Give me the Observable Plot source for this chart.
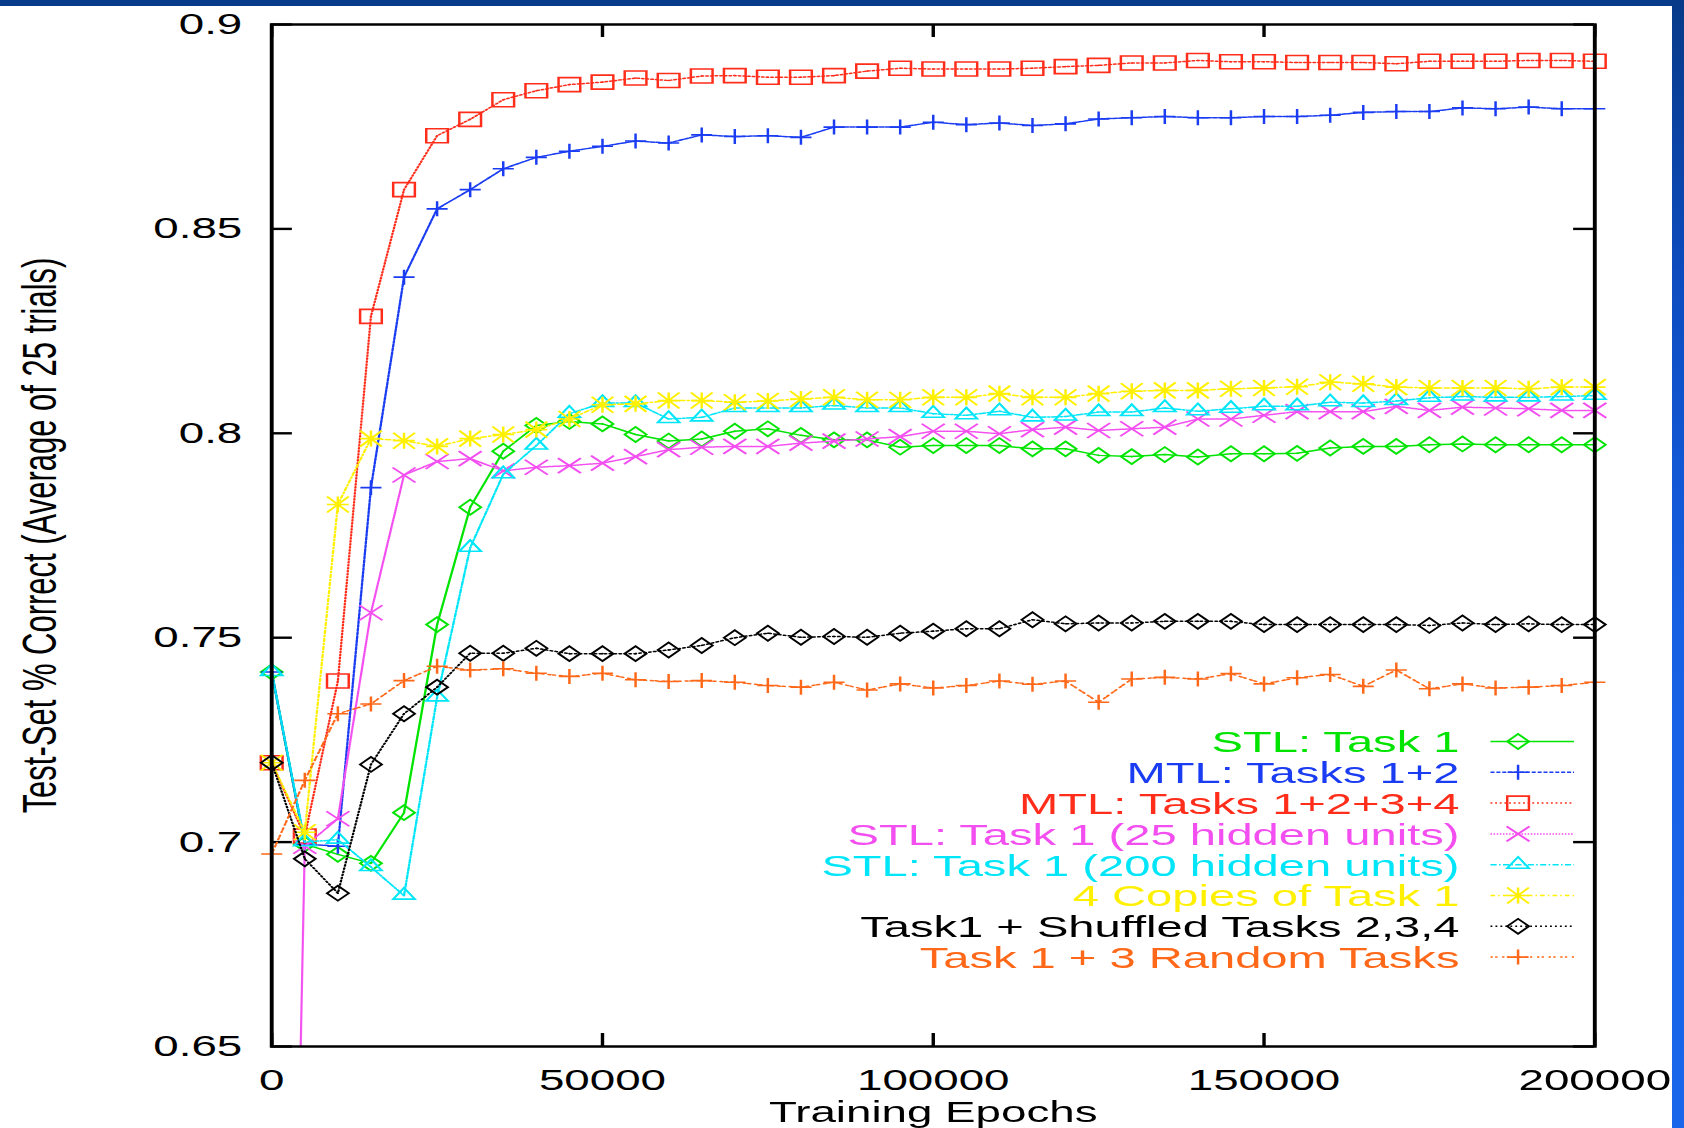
<!DOCTYPE html>
<html>
<head>
<meta charset="utf-8">
<script src="https://cdn.jsdelivr.net/npm/d3@7"></script>
<script src="https://cdn.jsdelivr.net/npm/@observablehq/plot@0.6"></script>
<style>
  html, body { margin: 0; padding: 0; background: #ffffff; width: 1684px; height: 1128px; overflow: hidden; }
  #topband { position: absolute; left: 0; top: 0; width: 1684px; height: 6px; background: #073a88; z-index: 2; }
  #rightband { position: absolute; left: 1672px; top: 0; width: 12px; height: 1128px; z-index: 2;
    background: linear-gradient(#073a88 0%, #0d4cc0 25%, #1660e4 55%, #1a66ea 100%); }
  #chart { position: absolute; left: 0; top: 0; width: 1087px; height: 1128px; transform: scaleX(1.55); transform-origin: 0 0; }
</style>
</head>
<body>
<div id="topband"></div>
<div id="rightband"></div>
<div id="chart"></div>
<script>
// ---------------- data ----------------
const epochs = [0, 5000, 10000, 15000, 20000, 25000, 30000, 35000, 40000, 45000,
  50000, 55000, 60000, 65000, 70000, 75000, 80000, 85000, 90000, 95000,
  100000, 105000, 110000, 115000, 120000, 125000, 130000, 135000, 140000, 145000,
  150000, 155000, 160000, 165000, 170000, 175000, 180000, 185000, 190000, 195000, 200000];

const stlTask1 = [0.7416, 0.6995, 0.6970, 0.6948, 0.7072, 0.7532, 0.7819, 0.7956, 0.8019, 0.8029,
  0.8023, 0.7997, 0.7981, 0.7986, 0.8005, 0.8011, 0.7995, 0.7984, 0.7984, 0.7966,
  0.7970, 0.7970, 0.7970, 0.7962, 0.7962, 0.7946, 0.7943, 0.7948, 0.7942, 0.7950,
  0.7950, 0.7951, 0.7964, 0.7968, 0.7968, 0.7972, 0.7974, 0.7972, 0.7972, 0.7972, 0.7972];

const mtlTasks12 = [0.7416, 0.6995, 0.6990, 0.7867, 0.8382, 0.8549, 0.8596, 0.8647, 0.8675, 0.8690,
  0.8702, 0.8715, 0.8710, 0.8730, 0.8726, 0.8728, 0.8724, 0.8749, 0.8749, 0.8749,
  0.8761, 0.8755, 0.8759, 0.8753, 0.8757, 0.8769, 0.8772, 0.8775, 0.8772, 0.8772,
  0.8775, 0.8775, 0.8778, 0.8785, 0.8787, 0.8787, 0.8796, 0.8794, 0.8798, 0.8794, 0.8794];

const mtlTasks1234 = [0.7194, 0.7015, 0.7394, 0.8286, 0.8596, 0.8728, 0.8768, 0.8816, 0.8838, 0.8853,
  0.8859, 0.8869, 0.8863, 0.8874, 0.8875, 0.8871, 0.8871, 0.8875, 0.8886, 0.8893,
  0.8891, 0.8891, 0.8891, 0.8893, 0.8897, 0.8900, 0.8906, 0.8906, 0.8912, 0.8909,
  0.8909, 0.8907, 0.8907, 0.8907, 0.8904, 0.8910, 0.8910, 0.8910, 0.8912, 0.8912, 0.8910];

const stl25Hidden = [0.3000, 0.6990, 0.7057, 0.7561, 0.7898, 0.7931, 0.7938, 0.7908, 0.7917, 0.7921,
  0.7927, 0.7943, 0.7960, 0.7966, 0.7968, 0.7968, 0.7976, 0.7981, 0.7986, 0.7992,
  0.8005, 0.8005, 0.7999, 0.8009, 0.8015, 0.8007, 0.8011, 0.8015, 0.8035, 0.8035,
  0.8044, 0.8053, 0.8053, 0.8053, 0.8066, 0.8056, 0.8064, 0.8062, 0.8060, 0.8056, 0.8056];

const stl200Hidden = [0.7416, 0.7000, 0.7006, 0.6939, 0.6869, 0.7354, 0.7720, 0.7900, 0.7970, 0.8048,
  0.8074, 0.8074, 0.8035, 0.8039, 0.8062, 0.8062, 0.8062, 0.8068, 0.8062, 0.8062,
  0.8048, 0.8044, 0.8054, 0.8039, 0.8041, 0.8052, 0.8052, 0.8062, 0.8054, 0.8060,
  0.8066, 0.8066, 0.8076, 0.8074, 0.8079, 0.8087, 0.8090, 0.8088, 0.8088, 0.8090, 0.8092];

const copies4 = [0.7194, 0.7024, 0.7826, 0.7987, 0.7982, 0.7968, 0.7987, 0.7997, 0.8009, 0.8035,
  0.8070, 0.8072, 0.8080, 0.8080, 0.8076, 0.8079, 0.8084, 0.8088, 0.8082, 0.8082,
  0.8088, 0.8088, 0.8097, 0.8088, 0.8088, 0.8097, 0.8103, 0.8105, 0.8105, 0.8109,
  0.8111, 0.8114, 0.8125, 0.8121, 0.8113, 0.8111, 0.8111, 0.8111, 0.8109, 0.8113, 0.8113];

const shuffled234 = [0.7194, 0.6959, 0.6875, 0.7190, 0.7314, 0.7379, 0.7462, 0.7462, 0.7474, 0.7461,
  0.7461, 0.7461, 0.7470, 0.7481, 0.7500, 0.7511, 0.7501, 0.7503, 0.7501, 0.7511,
  0.7516, 0.7522, 0.7522, 0.7544, 0.7534, 0.7536, 0.7536, 0.7540, 0.7540, 0.7540,
  0.7532, 0.7532, 0.7532, 0.7532, 0.7532, 0.7530, 0.7536, 0.7532, 0.7534, 0.7532, 0.7532];

const random3 = [0.6971, 0.7151, 0.7314, 0.7338, 0.7395, 0.7430, 0.7421, 0.7424, 0.7413, 0.7405,
  0.7413, 0.7397, 0.7393, 0.7395, 0.7391, 0.7383, 0.7379, 0.7391, 0.7372, 0.7387,
  0.7377, 0.7383, 0.7394, 0.7386, 0.7394, 0.7342, 0.7399, 0.7403, 0.7399, 0.7412,
  0.7387, 0.7402, 0.7410, 0.7381, 0.7421, 0.7375, 0.7387, 0.7377, 0.7379, 0.7383, 0.7391];

const seriesNames = ["STL: Task 1", "MTL: Tasks 1+2", "MTL: Tasks 1+2+3+4",
  "STL: Task 1 (25 hidden units)", "STL: Task 1 (200 hidden units)", "4 Copies of Task 1",
  "Task1 + Shuffled Tasks 2,3,4", "Task 1 + 3 Random Tasks"];
const seriesValues = [stlTask1, mtlTasks12, mtlTasks1234, stl25Hidden, stl200Hidden, copies4, shuffled234, random3];
const seriesColors = ["#00e400", "#1a3cf2", "#ff2d1a", "#f34ef0", "#00e6f8", "#fff000", "#000000", "#ff6818"];
const seriesDashes = [null, "2.6,1.2", "1.2,1.8", "1,1", "4,1.5,1,1.5", "3,2,1,2", "1.2,2", "1.5,1.5,1.5,3"];
const seriesSymbols = ["diamond", "plus", "square", "cross", "triangle", "star", "diamond", "plus"];

const xTicks = [0, 50000, 100000, 150000, 200000];
const yTicks = [0.65, 0.7, 0.75, 0.8, 0.85, 0.9];
const xLabel = "Training Epochs";
const yLabel = "Test-Set % Correct (Average of 25 trials)";

// ---------------- layout (internal units, page stretched 1.55x horizontally like the slide) ----------------
const W = 1087, H = 1128;
const mL = 174.8, mR = W - 1028.4, mT = 24, mB = H - 1046;
const plotW = W - mL - mR, plotH = H - mT - mB;
const FONT = "'Liberation Sans', Arial, Helvetica, sans-serif";

const SYM = {
  diamond: { draw(c) { c.moveTo(-7, 0); c.lineTo(0, -7.5); c.lineTo(7, 0); c.lineTo(0, 7.5); c.closePath(); } },
  plus: { draw(c) { c.moveTo(-6.8, 0); c.lineTo(6.8, 0); c.moveTo(0, -7.5); c.lineTo(0, 7.5); } },
  square: { draw(c) { c.moveTo(-7, -7); c.lineTo(7, -7); c.lineTo(7, 7); c.lineTo(-7, 7); c.closePath(); } },
  cross: { draw(c) { c.moveTo(-7.4, -7.5); c.lineTo(7.4, 7.5); c.moveTo(-7.4, 7.5); c.lineTo(7.4, -7.5); } },
  triangle: { draw(c) { c.moveTo(0, -7.8); c.lineTo(7, 3.5); c.lineTo(-7, 3.5); c.closePath(); } },
  star: { draw(c) {
    c.moveTo(-7, 0); c.lineTo(7, 0); c.moveTo(0, -8); c.lineTo(0, 8);
    c.moveTo(-7, -8); c.lineTo(7, 8); c.moveTo(-7, 8); c.lineTo(7, -8); } }
};

const marks = [];
seriesNames.forEach((name, k) => {
  const rows = epochs.map((e, i) => ({ series: name, epoch: e, acc: seriesValues[k][i] }));
  const visible = rows.filter(d => d.acc >= 0.65 && d.acc <= 0.9);
  marks.push(Plot.line(rows, { x: "epoch", y: "acc", stroke: seriesColors[k], strokeWidth: 1.5,
    strokeDasharray: seriesDashes[k], clip: true }));
  marks.push(Plot.dot(visible, { x: "epoch", y: "acc", symbol: SYM[seriesSymbols[k]], r: 7,
    stroke: seriesColors[k], fill: "none", strokeWidth: 1.6 }));
  marks.push(Plot.dot(visible, { x: "epoch", y: "acc", r: 0.8, fill: seriesColors[k], stroke: "none" }));
});

const plot = Plot.plot({
  width: W, height: H,
  marginLeft: mL, marginRight: mR, marginTop: mT, marginBottom: mB,
  style: { fontFamily: FONT, fontSize: "29.5px", color: "black", background: "white", overflow: "visible" },
  x: { domain: [0, 200000] },
  y: { domain: [0.65, 0.9] },
  marks: [
    Plot.axisX(xTicks, { anchor: "bottom", tickSize: 0, tickPadding: 23, fontSize: 29.5, tickFormat: d => String(d), label: null }),
    Plot.axisY(yTicks, { anchor: "left", tickSize: 0, tickPadding: 19, fontSize: 29.5, tickFormat: d => String(d), label: null }),
    Plot.tickX(xTicks, { x: d => d, stroke: "black", strokeWidth: 2.2, insetTop: plotH - 13 }),
    Plot.tickX(xTicks, { x: d => d, stroke: "black", strokeWidth: 2.2, insetBottom: plotH - 13 }),
    Plot.tickY(yTicks, { y: d => d, stroke: "black", strokeWidth: 2.4, insetRight: plotW - 13.5 }),
    Plot.tickY(yTicks, { y: d => d, stroke: "black", strokeWidth: 2.4, insetLeft: plotW - 13.5 }),
    ...marks,
    Plot.frame({ stroke: "black", strokeWidth: 2.5 }),
    Plot.text([xLabel], { frameAnchor: "bottom", lineAnchor: "middle", textAnchor: "middle", dy: 66.5, fontSize: 29.5, fill: "black" }),
    Plot.text([yLabel], { frameAnchor: "left", lineAnchor: "middle", textAnchor: "middle", dx: -149, rotate: -90, fontSize: 31, fill: "black" })
  ]
});

// ---------------- key (inside the frame, lower right) ----------------
const svg = d3.select(plot);
const key = svg.append("g").attr("font-family", FONT).attr("font-size", 30.4);
seriesNames.forEach((name, k) => {
  const cy = 741.5 + k * 30.8;
  key.append("text").attr("x", 941.6).attr("y", cy).attr("dy", "0.36em")
    .attr("text-anchor", "end").attr("fill", seriesColors[k]).text(name);
  key.append("line").attr("x1", 961.6).attr("x2", 1015.5).attr("y1", cy).attr("y2", cy)
    .attr("stroke", seriesColors[k]).attr("stroke-width", 1.5)
    .attr("stroke-dasharray", seriesDashes[k]);
  key.append("path").attr("transform", `translate(979.4,${cy})`)
    .attr("d", d3.symbol(SYM[seriesSymbols[k]])())
    .attr("fill", "none").attr("stroke", seriesColors[k]).attr("stroke-width", 1.6);
});

document.getElementById("chart").appendChild(plot);
</script>
</body>
</html>
